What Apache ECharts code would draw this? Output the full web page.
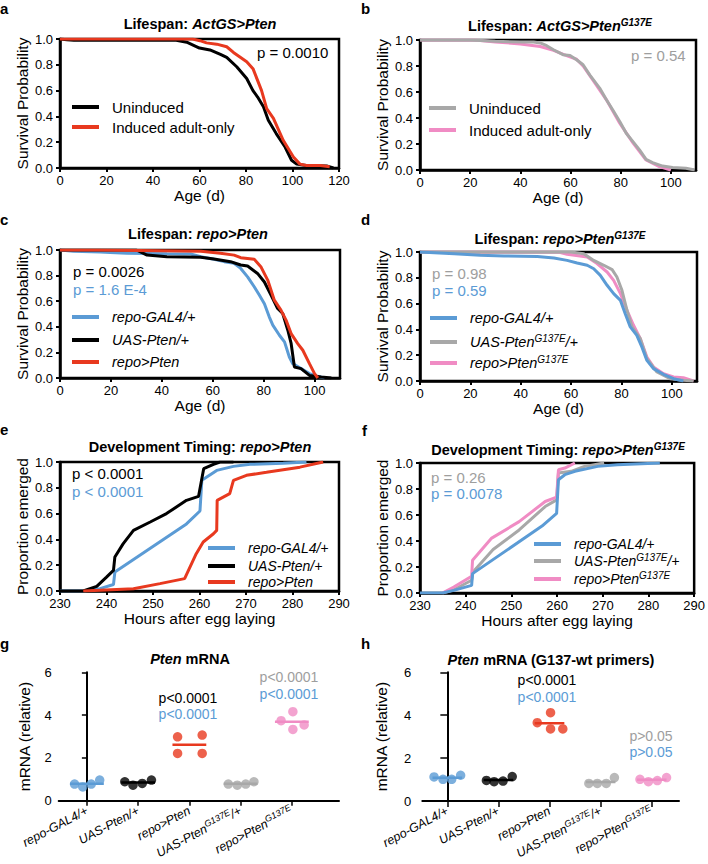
<!DOCTYPE html>
<html><head><meta charset="utf-8">
<script src="https://cdn.jsdelivr.net/npm/echarts@6/dist/echarts.min.js"></script>
<style>html,body{margin:0;padding:0;background:#fff}#c{width:708px;height:864px}</style>
</head><body><div id="c"></div>
<script>
const FONT = '"Liberation Sans", Arial, Helvetica, sans-serif';
const C = {blue:'#5b9bd5', red:'#e8391f', black:'#000000', gray:'#a8a8a8', pink:'#f08cc4', grayText:'#9e9e9e'};

// ---- Panel a: Lifespan ActGS>Pten (age d, survival) ----
const aUninduced = [[0,1],[3,0.995],[6,0.99],[50,0.99],[54.5,0.975],[57,0.955],[60,0.93],[64.5,0.915],[69,0.88],[71.7,0.857],[76,0.785],[80.3,0.694],[83,0.6],[85,0.55],[87.5,0.474],[89.6,0.37],[93,0.267],[96.8,0.163],[99.6,0.06],[101.8,0.03],[106,0.02],[114.7,0.015],[117.6,0]];
const aInduced = [[0,1],[57,1],[60.2,0.987],[63,0.97],[67.4,0.96],[71.7,0.94],[74.6,0.896],[80.3,0.824],[83,0.77],[86.7,0.6],[88.9,0.46],[91.8,0.385],[96,0.215],[100.4,0.085],[103.2,0.03],[106,0.02],[112,0.02],[116,0.01]];
// ---- Panel b ----
const bUninduced = [[0,1],[20,1],[30,0.99],[40,0.985],[45.3,0.985],[47.9,0.977],[50.5,0.956],[53.2,0.925],[57,0.887],[59.8,0.88],[62.4,0.848],[65,0.81],[67.7,0.73],[71.6,0.63],[74.3,0.54],[76.9,0.46],[79.6,0.373],[82.2,0.283],[84.8,0.22],[87.5,0.154],[90.1,0.082],[92.7,0.057],[96.7,0.03],[100.7,0.02],[106,0.013],[109.5,0]];
const bInduced = [[0,1],[22,1],[30,0.985],[40,0.97],[47.9,0.95],[53.2,0.92],[58.4,0.88],[62.4,0.852],[65,0.8],[69,0.69],[74.3,0.54],[79.6,0.36],[84.8,0.21],[90.1,0.077],[95.4,0.026],[100,0]];
// ---- Panel c ----
const cRepoGal4 = [[0,1],[5.3,0.99],[15.8,0.985],[19.7,0.98],[26.3,0.974],[42,0.97],[51.3,0.969],[55.3,0.948],[60.5,0.927],[64.5,0.909],[68.4,0.896],[71,0.856],[73.7,0.79],[76.3,0.713],[78.3,0.648],[80.3,0.58],[82.2,0.478],[83.6,0.413],[86.2,0.334],[88.2,0.282],[90.1,0.164],[91.4,0.112],[94.7,0.073],[98,0.034],[100.7,0.016],[104,0]];
const cUasPten = [[0,1],[30,1],[34.2,0.96],[42,0.948],[55.3,0.943],[60.5,0.93],[67,0.909],[71,0.883],[73.7,0.875],[77.6,0.817],[80.3,0.75],[82.9,0.648],[85.5,0.543],[87.5,0.504],[89.5,0.373],[90.8,0.27],[92.1,0.086],[94.7,0.073],[98,0.02],[102.6,0.008],[106.6,0]];
const cRepoPten = [[0,1],[15,1],[55.3,0.99],[63,0.974],[68.4,0.96],[71,0.94],[76.3,0.927],[78.9,0.87],[81.6,0.765],[84.2,0.608],[86.8,0.53],[88.8,0.452],[90.8,0.347],[93.4,0.269],[95.4,0.217],[98,0.112],[100,0.034],[101.3,0]];
// ---- Panel d ----
const dRepoGal4 = [[0,1],[5.7,0.995],[13.6,0.987],[24,0.974],[33.4,0.969],[46.6,0.966],[53.2,0.953],[58.4,0.935],[62.4,0.915],[66.4,0.897],[69,0.87],[71.6,0.819],[74.3,0.742],[76.9,0.677],[79.6,0.625],[81.5,0.522],[83.5,0.419],[86.1,0.354],[88.1,0.264],[90.1,0.16],[92.7,0.096],[96.7,0.052],[100.7,0.018],[104.6,0]];
const dUasG137E = [[0,1],[60,1],[65,0.987],[69,0.935],[73,0.897],[76.3,0.863],[78.2,0.806],[80.2,0.703],[82.2,0.548],[84.2,0.42],[87.5,0.328],[90.1,0.173],[94.1,0.07],[99.3,0.018],[104.6,0.005],[108.6,0]];
const dRepoG137E = [[0,1],[55,1],[58.4,0.982],[66.4,0.961],[70.3,0.91],[74.3,0.845],[76.9,0.78],[79.6,0.677],[82.2,0.548],[84.8,0.432],[87.5,0.328],[90.1,0.186],[92.7,0.109],[96.7,0.057],[100.7,0.031],[104.6,0.026],[108.6,0]];
// ---- Panel e: development timing (hours AEL, proportion emerged) ----
const eRepoGal4 = [[230,0],[235,0],[238.6,0.018],[241.5,0.05],[241.8,0.147],[257.2,0.52],[260.1,0.62],[260.5,0.858],[263.7,0.935],[267.3,0.966],[270.9,0.982],[278,0.99],[283,1]];
const eUasPten = [[230,0],[235,0],[237.9,0.036],[240,0.108],[241.5,0.16],[241.8,0.264],[243.6,0.367],[245.8,0.47],[249.4,0.535],[252.9,0.6],[257.2,0.703],[259.8,0.734],[260.9,0.948],[263,0.982],[264.4,1],[267.3,1]];
const eRepoPten = [[235,0],[238.6,0.005],[245.8,0.018],[251.5,0.057],[256.8,0.096],[259.3,0.289],[260.8,0.38],[263,0.444],[263.7,0.47],[263.8,0.703],[266.5,0.755],[267.3,0.858],[270.1,0.897],[274.4,0.92],[281.6,0.96],[286.6,1]];
// ---- Panel f ----
const fRepoGal4 = [[230,0],[234.9,0],[237.4,0.02],[241.3,0.059],[241.5,0.149],[256.7,0.515],[259.9,0.613],[260.3,0.871],[261.7,0.91],[263.9,0.936],[268.9,0.974],[273.2,0.987],[282.5,1]];
const fUasG137E = [[234.9,0],[237.4,0.025],[241.3,0.098],[241.6,0.162],[246,0.335],[251.7,0.485],[257.4,0.665],[259.9,0.716],[260.3,0.923],[263.1,0.936],[266,0.974],[270.3,1]];
const fRepoG137E = [[234.9,0],[237.4,0.046],[241.3,0.129],[241.5,0.252],[245.6,0.42],[251.7,0.549],[257.4,0.704],[259.9,0.737],[260.3,0.948],[261.7,0.961],[263.9,1]];
// ---- Panels g, h: mRNA (relative) ----
const mrnaCategories = ['repo-GAL4/+','UAS-Pten/+','repo>Pten','UAS-PtenG137E/+','repo>PtenG137E'];
const mrnaColors = [C.blue, C.black, C.red, C.gray, C.pink];
const gValues = [[0.78,0.65,0.78,0.97],[0.89,0.73,0.81,0.97],[2.99,2.21,3.07,2.21],[0.78,0.73,0.78,0.89],[4.16,3.74,3.33,3.54]];
const gJitter = [[-0.24,-0.08,0.085,0.25],[-0.26,-0.1,0.08,0.26],[-0.23,-0.23,0.25,0.25],[-0.24,-0.065,0.1,0.26],[0.02,-0.21,0.02,0.24]];
const hValues = [[1.12,1.01,1.01,1.2],[0.96,0.9,0.93,1.14],[3.65,4.12,3.36,3.36],[0.82,0.82,0.82,1.09],[1.01,0.9,0.95,1.09]];
const hJitter = [[-0.26,-0.085,0.085,0.26],[-0.235,-0.085,0.09,0.27],[-0.24,0.02,0.02,0.26],[-0.23,-0.065,0.11,0.27],[-0.23,-0.065,0.11,0.29]];
const mrnaTicks = [0,2,4,6];

const CAT_RICH = {
  'repo-GAL4/+':'{i|repo-GAL4/+}', 'UAS-Pten/+':'{i|UAS-Pten/+}', 'repo>Pten':'{i|repo>Pten}',
  'UAS-PtenG137E/+':'{i|UAS-Pten}{s|G137E}{i|/+}', 'repo>PtenG137E':'{i|repo>Pten}{s|G137E}'
};
const LEG = {
  'a|un':'{n|Uninduced}', 'a|in':'{n|Induced adult-only}',
  'b|un':'{n|Uninduced}', 'b|in':'{n|Induced adult-only}',
  'c|r':'{i|repo-GAL4/+}', 'c|u':'{i|UAS-Pten/+}', 'c|p':'{i|repo>Pten}',
  'd|r':'{i|repo-GAL4/+}', 'd|u':'{i|UAS-Pten}{s|G137E}{i|/+}', 'd|p':'{i|repo>Pten}{s|G137E}',
  'e|r':'{i|repo-GAL4/+}', 'e|u':'{i|UAS-Pten/+}', 'e|p':'{i|repo>Pten}',
  'f|r':'{i|repo-GAL4/+}', 'f|u':'{i|UAS-Pten}{s|G137E}{i|/+}', 'f|p':'{i|repo>Pten}{s|G137E}'
};

function rich(size, color, weight){
  weight = weight || 'normal';
  const lh = Math.round(size*1.25);
  const base = {fontFamily:FONT, fontSize:size, fontWeight:weight, color:color, fill:color, lineHeight:lh};
  const ss = Math.round(size*0.7);
  return {
    n: Object.assign({}, base),
    i: Object.assign({}, base, {fontStyle:'italic'}),
    s: Object.assign({}, base, {fontStyle:'italic', fontSize:ss, lineHeight:ss, verticalAlign:'top'}),
    sp: Object.assign({}, base, {width:8})
  };
}

const grids = [
  {left:60, top:39, width:279, height:129},
  {left:420, top:40, width:276, height:130},
  {left:60, top:250, width:280, height:128},
  {left:420, top:252, width:277, height:129},
  {left:60, top:462, width:279, height:129},
  {left:420, top:463, width:279, height:130},
  {left:58.7, top:672.3, width:280.3, height:128.5},
  {left:61.4, top:672.3, width:256, height:128.5},
  {left:422.3, top:672.3, width:256.7, height:128.7},
  {left:421.75, top:672.3, width:255.5, height:128.7}
].map(g => Object.assign({show:false, containLabel:false}, g));
[0,1,2,3,4,5].forEach(i => { grids[i].show = true; grids[i].borderColor = '#000'; grids[i].borderWidth = 2.5; grids[i].backgroundColor = 'transparent'; });

const axisLineS = {show:true, onZero:false, lineStyle:{color:'#000', width:2.5}};
const tickS = {show:true, length:4, inside:false, lineStyle:{color:'#000', width:2}};
const labelS = {fontFamily:FONT, fontSize:13, color:'#000'};
const nameS = {fontFamily:FONT, fontSize:15.5, color:'#000'};

function xVal(grid, min, max, interval, name, hideMax){
  return {type:'value', gridIndex:grid, min, max, interval, name, nameLocation:'middle', nameGap:19, nameTextStyle:nameS,
    axisLine:axisLineS, axisTick:tickS, splitLine:{show:false},
    axisLabel:Object.assign({margin:6, showMaxLabel:!hideMax}, labelS)};
}
function yProb(grid, name){
  return {type:'value', gridIndex:grid, min:0, max:1, interval:0.2, name, nameLocation:'middle', nameGap:30, nameTextStyle:nameS,
    axisLine:axisLineS, axisTick:tickS, splitLine:{show:false},
    axisLabel:Object.assign({margin:7, formatter:v => v.toFixed(1)}, labelS)};
}
const xAxes = [
  xVal(0,0,120,20,'Age (d)'),
  xVal(1,0,110,20,'Age (d)',true),
  xVal(2,0,110,20,'Age (d)',true),
  xVal(3,0,110,20,'Age (d)',true),
  xVal(4,230,290,10,'Hours after egg laying'),
  xVal(5,230,290,10,'Hours after egg laying'),
  {type:'value', gridIndex:6, min:-0.55, max:4.92, axisLine:{show:true, onZero:false, lineStyle:{color:'#000', width:2}}, axisTick:{show:false}, axisLabel:{show:false}, splitLine:{show:false}},
  {type:'category', gridIndex:7, data:mrnaCategories, axisLine:{show:false}, axisTick:{show:true, alignWithLabel:true, length:5, lineStyle:{color:'#000', width:1.5}},
    axisLabel:{rotate:28, margin:9, interval:0, formatter:v => CAT_RICH[v], rich:rich(12.5,'#000')}, splitLine:{show:false}},
  {type:'value', gridIndex:8, min:-0.49, max:4.534, axisLine:{show:true, onZero:false, lineStyle:{color:'#000', width:2}}, axisTick:{show:false}, axisLabel:{show:false}, splitLine:{show:false}},
  {type:'category', gridIndex:9, data:mrnaCategories, axisLine:{show:false}, axisTick:{show:true, alignWithLabel:true, length:6, lineStyle:{color:'#000', width:1.5}},
    axisLabel:{rotate:28, margin:9, interval:0, formatter:v => CAT_RICH[v], rich:rich(12.5,'#000')}, splitLine:{show:false}}
];
function yMrna(grid, gap, lmargin, tlen){
  return {type:'value', gridIndex:grid, min:mrnaTicks[0], max:mrnaTicks[mrnaTicks.length-1], interval:mrnaTicks[1]-mrnaTicks[0],
    name:'mRNA (relative)', nameLocation:'middle', nameGap:gap, nameTextStyle:nameS,
    axisLine:{show:true, lineStyle:{color:'#000', width:2}}, axisTick:{show:true, length:tlen, lineStyle:{color:'#000', width:1.5}},
    axisLabel:Object.assign({margin:lmargin}, labelS), splitLine:{show:false}};
}
const yAxes = [
  yProb(0,'Survival Probability'), yProb(1,'Survival Probability'),
  yProb(2,'Survival Probability'), yProb(3,'Survival Probability'),
  yProb(4,'Proportion emerged'), yProb(5,'Proportion emerged'),
  yMrna(6, 26, 7, 5),
  {type:'value', gridIndex:7, min:0, max:6, show:false},
  yMrna(8, 33, 11, 7),
  {type:'value', gridIndex:9, min:0, max:6, show:false}
];

function curve(id, g, data, color){
  return {type:'line', name:id, xAxisIndex:g, yAxisIndex:g, data, color, showSymbol:false, symbol:'none',
    lineStyle:{width:3, color}, emphasis:{disabled:true}, silent:true, clip:true};
}
const series = [
  curve('a|un',0,aUninduced,C.black), curve('a|in',0,aInduced,C.red),
  curve('b|in',1,bInduced,C.pink), curve('b|un',1,bUninduced,C.gray),
  curve('c|r',2,cRepoGal4,C.blue), curve('c|u',2,cUasPten,C.black), curve('c|p',2,cRepoPten,C.red),
  curve('d|p',3,dRepoG137E,C.pink), curve('d|u',3,dUasG137E,C.gray), curve('d|r',3,dRepoGal4,C.blue),
  curve('e|r',4,eRepoGal4,C.blue), curve('e|u',4,eUasPten,C.black), curve('e|p',4,eRepoPten,C.red),
  curve('f|u',5,fUasG137E,C.gray), curve('f|p',5,fRepoG137E,C.pink), curve('f|r',5,fRepoGal4,C.blue)
];
function dots(values, jitter, g, half){
  values.forEach((vals, i) => {
    const color = mrnaColors[i];
    const mean = vals.reduce((s,v)=>s+v,0)/vals.length;
    series.push({type:'scatter', xAxisIndex:g, yAxisIndex:g, data: vals.map((v,k)=>[i+jitter[i][k], v]),
      symbolSize:9.5, itemStyle:{color}, silent:true, z:3});
    series.push({type:'line', xAxisIndex:g, yAxisIndex:g, data:[[i-half, mean],[i+half, mean]], showSymbol:false, symbol:'none',
      lineStyle:{width:2.5, color}, color, silent:true, z:4});
  });
}
dots(gValues, gJitter, 6, 0.33);
dots(hValues, hJitter, 8, 0.29);

function legendItem(name, left, center, size){
  const lh = Math.round(size*1.25);
  return {show:true, data:[name], left, top:center - lh/2, orient:'vertical', icon:'rect', itemWidth:27, itemHeight:4,
    padding:0, itemGap:0, selectedMode:false, formatter:n => '{sp| }' + LEG[n],
    textStyle:{fontFamily:FONT, fontSize:size, color:'#000', lineHeight:lh, rich:rich(size,'#000')}};
}
const legends = [
  legendItem('a|un',72,107,15), legendItem('a|in',72,127,15),
  legendItem('b|un',429,108,15), legendItem('b|in',429,130,15),
  legendItem('c|r',72,317,14.5), legendItem('c|u',72,340,14.5), legendItem('c|p',72,362,14.5),
  legendItem('d|r',430,318,14.5), legendItem('d|u',430,342,14.5), legendItem('d|p',430,363,14.5),
  legendItem('e|r',208,548,14), legendItem('e|u',208,566,14), legendItem('e|p',208,582,14),
  legendItem('f|r',534,544,14), legendItem('f|u',534,561,14), legendItem('f|p',534,579,14)
];

function txt(x, y, text, size, color, weight, align){
  return {type:'text', x, y, silent:true, style:{text, rich:rich(size,color,weight), align:align||'left', verticalAlign:'middle',
    fill:color, fontFamily:FONT, fontSize:size, fontWeight:weight||'normal'}};
}
const graphics = [
  // panel letters
  txt(0,8,'{n|a}',15,'#000','bold'), txt(361,8,'{n|b}',15,'#000','bold'),
  txt(0,219,'{n|c}',15,'#000','bold'), txt(361,219,'{n|d}',15,'#000','bold'),
  txt(0,429,'{n|e}',15,'#000','bold'), txt(362,430,'{n|f}',15,'#000','bold'),
  txt(0,643,'{n|g}',15,'#000','bold'), txt(361,643,'{n|h}',15,'#000','bold'),
  // titles
  txt(200,24,'{n|Lifespan: }{i|ActGS>Pten}',14.5,'#000','bold','center'),
  txt(560,26,'{n|Lifespan: }{i|ActGS>Pten}{s|G137E}',14.5,'#000','bold','center'),
  txt(198,234,'{n|Lifespan: }{i|repo>Pten}',14.5,'#000','bold','center'),
  txt(560,239,'{n|Lifespan: }{i|repo>Pten}{s|G137E}',14.5,'#000','bold','center'),
  txt(200,447,'{n|Development Timing: }{i|repo>Pten}',14.5,'#000','bold','center'),
  txt(558,450,'{n|Development Timing: }{i|repo>Pten}{s|G137E}',14.5,'#000','bold','center'),
  txt(190,659,'{i|Pten}{n| mRNA}',14.5,'#000','bold','center'),
  txt(551,660,'{i|Pten}{n| mRNA (G137-wt primers)}',14.5,'#000','bold','center'),
  // p values
  txt(257,52,'{n|p = 0.0010}',15,'#000'),
  txt(631,55,'{n|p = 0.54}',15,C.grayText),
  txt(73,271,'{n|p = 0.0026}',15,'#000'), txt(73,289,'{n|p = 1.6 E-4}',15,C.blue),
  txt(432,273,'{n|p = 0.98}',15,C.grayText), txt(432,290,'{n|p = 0.59}',15,C.blue),
  txt(72,473,'{n|p < 0.0001}',15,'#000'), txt(72,491,'{n|p < 0.0001}',15,C.blue),
  txt(431,477,'{n|p = 0.26}',15,C.grayText), txt(431,493,'{n|p = 0.0078}',15,C.blue),
  txt(188,698,'{n|p<0.0001}',14,'#000',null,'center'), txt(188,714,'{n|p<0.0001}',14,C.blue,null,'center'),
  txt(289,677,'{n|p<0.0001}',14,C.grayText,null,'center'), txt(289,694,'{n|p<0.0001}',14,C.blue,null,'center'),
  txt(547,680,'{n|p<0.0001}',14,'#000',null,'center'), txt(547,697,'{n|p<0.0001}',14,C.blue,null,'center'),
  txt(651,736,'{n|p>0.05}',14,C.grayText,null,'center'), txt(651,752,'{n|p>0.05}',14,C.blue,null,'center')
];

const chart = echarts.init(document.getElementById('c'), null, {renderer:'svg', width:708, height:864});
chart.setOption({
  animation:false,
  backgroundColor:'#ffffff',
  textStyle:{fontFamily:FONT},
  grid:grids, xAxis:xAxes, yAxis:yAxes, legend:legends, series, graphic:graphics
});
</script></body></html>
